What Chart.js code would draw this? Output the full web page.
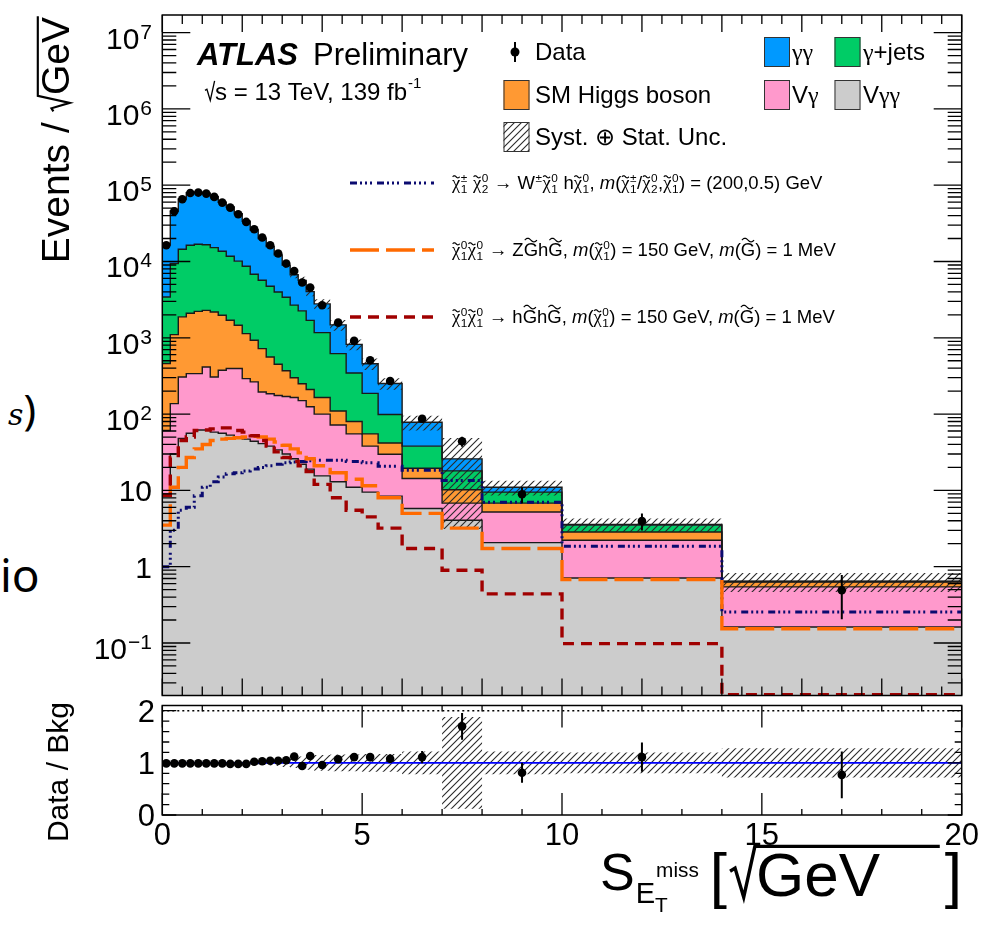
<!DOCTYPE html>
<html lang="en">
<head>
<meta charset="UTF-8">
<title>S_ET^miss distribution</title>
<script src="https://cdn.jsdelivr.net/npm/chart.js@4.4.1/dist/chart.umd.min.js"></script>
<style>
  body { margin: 0; background: #fff; width: 995px; height: 928px; overflow: hidden; position: relative; }
  canvas { position: absolute; left: 0; top: 0; }
  .stray { position: absolute; font-family: "Noto Sans", sans-serif; color: #000; line-height: 1; }
</style>
</head>
<body>
<div class="stray" style="left:8px; top:388px; font-size:42px;"><span style="font-family:'DejaVu Serif',serif; font-style:italic; font-size:30px;">s</span>)</div>
<div class="stray" style="left:0px; top:551px; font-size:46px;">io</div>
<canvas id="mainChart" width="995" height="928"></canvas>
<canvas id="ratioChart" width="995" height="928"></canvas>
<script>
// bin edges in sqrt(GeV)
const binEdges = [0, 0.2, 0.4, 0.6, 0.8, 1.0, 1.2, 1.4, 1.6, 1.8, 2.0, 2.2, 2.4, 2.6, 2.8, 3.0, 3.2, 3.4, 3.6, 3.8,
                  4.2, 4.6, 5.0, 5.4, 6, 7, 8, 10, 14, 20];

// observed events / sqrt(GeV)
const dataValues = [16300, 45500, 65300, 79000, 80000, 77600, 70200, 59100, 50800, 41600,
                    33000, 26400, 20600, 16300, 12700, 9400, 7500, 5300, 4550, 2670,
                    1580, 910, 507, 272, 87, 44, 8.9, 3.97, 0.49];

// background processes (stack order: bottom to top)
const vyyBkg    = [9, 30, 48, 56, 62, 62, 58, 56, 53, 50, 47, 44, 41, 38, 34, 30, 26, 22, 19, 15.5,
                   13, 11, 9.5, 8.4, 5.8, 4.06, 2.07, 0.71, 0.162];
const vyBkg     = [52, 107, 258, 283, 277, 353, 248, 319, 342, 345, 245, 220, 154, 147, 141, 140, 139, 128, 106, 84.5,
                   59, 44, 28.5, 21.3, 8.5, 2.74, 3.13, 1.51, 0.381];
const higgsBkg  = [399, 963, 1574, 1761, 1881, 1875, 1874, 1595, 1305, 1065, 843, 665, 527, 375, 275, 200, 135, 100, 85, 65,
                   38, 25, 17, 12, 5.2, 3.4, 1.6, 0.63, 0.087];
const yjetsBkg  = [2970, 8300, 12570, 14200, 14580, 14310, 13020, 11630, 10000, 8640, 7515, 5871, 4948, 4170, 3540, 3030, 2380, 2006, 1480, 1005,
                   510, 265, 132, 57, 18.5, 7.8, 2.7, 0.65, 0.01];
const yyBkg     = [13030, 36560, 51510, 63500, 64000, 61780, 55700, 46100, 40140, 32350, 25020, 19080, 14330, 10940, 8220, 5550, 4020, 3384, 2340, 1610,
                   857, 475, 270, 153, 40, 7.9, 1.5, 0.08, 0.005];

// relative syst+stat uncertainty on the total background
const bkgRelUnc = [0.01, 0.01, 0.01, 0.01, 0.01, 0.01, 0.01, 0.01, 0.01, 0.01, 0.02, 0.03, 0.04, 0.05, 0.06, 0.08, 0.10, 0.12, 0.13, 0.15,
                   0.16, 0.16, 0.17, 0.17, 0.22, 0.88, 0.22, 0.20, 0.28];

// data / background
const ratioValues = [0.99, 0.99, 0.99, 0.99, 0.99, 0.99, 0.99, 0.99, 0.98, 0.98, 0.98, 1.02, 1.03, 1.04, 1.04, 1.05, 1.12, 0.94, 1.13, 0.96,
                     1.07, 1.11, 1.11, 1.08, 1.11, 1.70, 0.81, 1.11, 0.77];

// signal benchmarks
const sigWh   = [1.0, 3.0, 5.5, 6.0, 8.5, 11, 13, 15, 16.5, 17, 18, 19, 20, 21, 22, 23, 23.5, 24, 24.5, 24.8,
                 24.8, 24, 23, 20.7, 18.3, 13.5, 7.0, 1.85, 0.255];
const sigZGhG = [3.5, 11, 20, 27, 35, 40, 45, 47, 48, 49, 50, 51, 50, 47, 43, 39, 35, 31, 26, 21,
                 17, 14, 11.5, 8, 5.0, 3.2, 1.73, 0.68, 0.154];
const sigHGhG = [8.6, 27, 45, 50, 61, 62, 64, 66, 66, 61, 58, 52, 45, 38, 32, 27, 24, 21, 17.6, 12,
                 8, 5.5, 4.5, 3.2, 1.73, 0.9, 0.44, 0.098, 0.021];

// axis tick labels
const yExponents = [-1, 0, 1, 2, 3, 4, 5, 6, 7];
const xTickLabels = [0, 5, 10, 15, 20];
const ratioTickLabels = [0, 1, 2];

const FONT = '"Liberation Sans", Arial, Helvetica, sans-serif';
const GREEK = '"Liberation Serif", "DejaVu Serif", serif';
const stackNames = ['Vγγ', 'Vγ', 'SM Higgs boson', 'γ+jets', 'γγ'];
const stackColors = ['#cccccc', '#ff99cc', '#ff9933', '#00cc66', '#0099ff'];

const nBins = dataValues.length;
const binWidths = dataValues.map((_, i) => binEdges[i + 1] - binEdges[i]);
const binCenters = dataValues.map((_, i) => (binEdges[i] + binEdges[i + 1]) / 2);

// running sums for the stack
let running = new Array(nBins).fill(0);
const stackTops = [vyyBkg, vyBkg, higgsBkg, yjetsBkg, yyBkg].map(layer => (running = running.map((r, i) => r + layer[i])));
const bkgTotal = stackTops[stackTops.length - 1];

// step points: one per lower edge plus the closing edge
function steps(vals) {
  const pts = vals.map((v, i) => ({ x: binEdges[i], y: v }));
  pts.push({ x: binEdges[binEdges.length - 1], y: vals[vals.length - 1] });
  return pts;
}

function hatch(ctx) {
  const n = 7;
  const c = document.createElement('canvas');
  c.width = c.height = n;
  const g = c.getContext('2d');
  g.strokeStyle = '#2a2a2a';
  g.lineWidth = 1.1;
  g.beginPath();
  g.moveTo(0, n); g.lineTo(n, 0);
  g.moveTo(-2, 2); g.lineTo(2, -2);
  g.moveTo(n - 2, n + 2); g.lineTo(n + 2, n - 2);
  g.stroke();
  return ctx.createPattern(c, 'repeat');
}

function setFont(ctx, size, style, family) { ctx.font = (style ? style + ' ' : '') + size + 'px ' + (family || FONT); }

// plain text where greek letters come from the serif face
function mixedText(ctx, text, x, y, size) {
  let cx = x;
  for (const ch of text.split(/(γ)/)) {
    if (!ch) continue;
    setFont(ctx, size, '', ch === 'γ' ? GREEK : FONT);
    ctx.fillText(ch, cx, y);
    cx += ctx.measureText(ch).width;
  }
  return cx - x;
}

function drawTilde(ctx, cx, cy, w, lw) {
  ctx.save();
  ctx.lineWidth = lw;
  ctx.beginPath();
  for (let k = 0; k <= 16; k++) {
    const t = k / 16;
    const px = cx - w / 2 + t * w, py = cy - Math.sin(t * 2 * Math.PI) * w * 0.15;
    if (k) ctx.lineTo(px, py); else ctx.moveTo(px, py);
  }
  ctx.stroke();
  ctx.restore();
}

// text with tildes, super- and subscripts; returns the width
function richText(ctx, x, y, size, parts, draw) {
  let cx = x;
  const small = size * 0.64;
  for (const p of parts) {
    const part = typeof p === 'string' ? { t: p } : p;
    setFont(ctx, size, part.italic ? 'italic' : '', part.greek ? GREEK : FONT);
    const w = ctx.measureText(part.t).width;
    if (draw) {
      ctx.fillText(part.t, cx, y);
      if (part.tilde) drawTilde(ctx, cx + w / 2, y - size * (part.cap ? 0.86 : 0.66), w * 0.85, size * 0.065);
    }
    cx += w;
    if (part.sup || part.sub) {
      setFont(ctx, small);
      let sw = 0;
      for (const [s, dy] of [[part.sup, -size * 0.4], [part.sub, size * 0.24]]) {
        if (!s) continue;
        if (draw) ctx.fillText(s, cx + 0.5, y + dy);
        sw = Math.max(sw, ctx.measureText(s).width);
      }
      cx += sw + 1;
    }
  }
  return cx - x;
}

// radical sign; the bar over the radicand runs to barEnd (or just past the text)
function drawRadical(ctx, x, y, size, radicand, bar, barEnd) {
  setFont(ctx, size);
  const w = ctx.measureText(radicand).width;
  ctx.save();
  ctx.lineWidth = size * 0.055;
  ctx.lineJoin = 'miter';
  ctx.beginPath();
  ctx.moveTo(x, y - size * 0.40);
  ctx.lineTo(x + size * 0.08, y - size * 0.45);
  ctx.lineTo(x + size * 0.22, y + size * 0.02);
  ctx.lineTo(x + size * 0.40, y - size * 0.80);
  if (bar) ctx.lineTo(barEnd || (x + size * 0.44 + w), y - size * 0.80);
  ctx.stroke();
  ctx.restore();
  ctx.fillText(radicand, x + size * 0.42, y);
  return size * 0.42 + w;
}

function drawFrame(chart, t) {
  const { ctx, chartArea: a, scales: { x, y } } = chart;
  ctx.save();
  ctx.strokeStyle = '#000';
  ctx.lineWidth = 1.5;
  ctx.strokeRect(a.left, a.top, a.right - a.left, a.bottom - a.top);
  ctx.lineWidth = 1.3;
  ctx.beginPath();
  for (const tk of t.xTicks) {
    const px = x.getPixelForValue(tk.v);
    const L = tk.major ? t.xMajor : t.xMinor;
    ctx.moveTo(px, a.bottom); ctx.lineTo(px, a.bottom - L);
    ctx.moveTo(px, a.top); ctx.lineTo(px, a.top + L);
  }
  for (const tk of t.yTicks) {
    const py = y.getPixelForValue(tk.v);
    const L = tk.major ? t.yMajor : t.yMinor;
    ctx.moveTo(a.left, py); ctx.lineTo(a.left + L, py);
    ctx.moveTo(a.right, py); ctx.lineTo(a.right - L, py);
  }
  ctx.stroke();
  ctx.restore();
}

const errorBarPlugin = {
  id: 'errorBars',
  afterDatasetsDraw(chart) {
    const { ctx, chartArea: a } = chart;
    chart.data.datasets.forEach((ds, di) => {
      if (!ds.errorBars) return;
      const meta = chart.getDatasetMeta(di);
      const ys = chart.scales.y;
      ctx.save();
      ctx.beginPath();
      ctx.rect(a.left, a.top, a.right - a.left, a.bottom - a.top);
      ctx.clip();
      ctx.strokeStyle = '#000';
      ctx.lineWidth = 2;
      meta.data.forEach((pt, i) => {
        const [lo, hi] = ds.errorBars[i];
        ctx.beginPath();
        ctx.moveTo(pt.x, ys.getPixelForValue(Math.max(lo, ys.min)));
        ctx.lineTo(pt.x, ys.getPixelForValue(hi));
        ctx.stroke();
      });
      ctx.restore();
    });
  }
};

const mainCanvas = document.getElementById('mainChart');
const mainHatch = hatch(mainCanvas.getContext('2d'));

const dataErr = dataValues.map((v, i) => Math.sqrt(v * binWidths[i]) / binWidths[i]);

const signalStyles = [
  { data: sigWh, color: '#0b0b70', dash: [7, 3, 2, 3, 2, 3, 2, 5], width: 3 },
  { data: sigZGhG, color: '#ff6a00', dash: [29, 7], width: 3.4 },
  { data: sigHGhG, color: '#a00000', dash: [11, 7], width: 3.4 }
];

const chi = (sub, sup) => ({ t: 'χ', greek: true, tilde: true, sub, sup });
const gravitino = { t: 'G', tilde: true, cap: true };
const massM = { t: 'm', italic: true };
const signalLabels = [
  [chi('1', '±'), ' ', chi('2', '0'), ' → ', { t: 'W', sup: '±' }, chi('1', '0'), ' h', chi('1', '0'), ', ', massM, '(',
   chi('1', '±'), '/', chi('2', '0'), ',', chi('1', '0'), ') = (200,0.5) GeV'],
  [chi('1', '0'), chi('1', '0'), ' → Z', gravitino, 'h', gravitino, ', ', massM, '(', chi('1', '0'), ') = 150 GeV, ',
   massM, '(', gravitino, ') = 1 MeV'],
  [chi('1', '0'), chi('1', '0'), ' → h', gravitino, 'h', gravitino, ', ', massM, '(', chi('1', '0'), ') = 150 GeV, ',
   massM, '(', gravitino, ') = 1 MeV']
];

const mainTicks = { xTicks: [], yTicks: [], xMajor: 17, xMinor: 9, yMajor: 28, yMinor: 14 };
for (let v = 0; v <= 20.001; v += 0.5) mainTicks.xTicks.push({ v, major: Math.abs(v / 2 - Math.round(v / 2)) < 1e-6 });
for (let e = -2; e <= 7; e++) for (let m = 1; m <= 9; m++) {
  const v = m * Math.pow(10, e);
  if (v >= 0.0205 && v <= 1.7e7) mainTicks.yTicks.push({ v, major: m === 1 });
}

const mainDecor = {
  id: 'mainDecor',
  afterDraw(chart) {
    const { ctx } = chart;
    const y = chart.scales.y;
    drawFrame(chart, mainTicks);
    ctx.save();
    ctx.fillStyle = '#000';
    ctx.strokeStyle = '#000';

    // log axis labels
    ctx.textAlign = 'right';
    for (const e of yExponents) {
      const py = y.getPixelForValue(Math.pow(10, e));
      if (e === 0 || e === 1) {
        setFont(ctx, 30);
        ctx.fillText(e === 0 ? '1' : '10', 152, py + 11);
      } else {
        setFont(ctx, 21);
        const ex = e < 0 ? '−' + (-e) : String(e);
        const w = ctx.measureText(ex).width;
        ctx.fillText(ex, 152, py + 6);
        setFont(ctx, 30);
        ctx.fillText('10', 151 - w, py + 16);
      }
    }
    ctx.textAlign = 'left';

    // y title
    ctx.save();
    ctx.translate(69, 15);
    ctx.rotate(-Math.PI / 2);
    setFont(ctx, 39);
    const pre = 'Events / ';
    const wPre = ctx.measureText(pre).width;
    const wRad = 39 * 0.42 + ctx.measureText('GeV').width + 2;
    ctx.fillText(pre, -(wPre + wRad), 0);
    drawRadical(ctx, -wRad, 0, 39, 'GeV', true);
    ctx.restore();

    // ATLAS label
    setFont(ctx, 31, 'italic bold');
    ctx.fillText('ATLAS', 197, 65);
    setFont(ctx, 31);
    ctx.fillText('Preliminary', 313, 65);
    setFont(ctx, 24);
    let cx = 205 + drawRadical(ctx, 205, 100, 24, 's', false);
    ctx.fillText(' = 13 TeV, 139 fb', cx, 100);
    cx += ctx.measureText(' = 13 TeV, 139 fb').width;
    setFont(ctx, 15);
    ctx.fillText('-1', cx + 1, 88);

    // process legend
    ctx.lineWidth = 2;
    ctx.beginPath();
    ctx.moveTo(515, 42); ctx.lineTo(515, 62); ctx.stroke();
    ctx.beginPath(); ctx.arc(515, 52, 4.5, 0, Math.PI * 2); ctx.fill();
    setFont(ctx, 24);
    ctx.fillText('Data', 535, 60);
    const boxes = [
      { x: 503.5, y: 80, fill: stackColors[2], text: stackNames[2], tx: 535 },
      { x: 503.5, y: 122, fill: mainHatch, text: 'Syst. ⊕ Stat. Unc.', tx: 535 },
      { x: 764, y: 37, fill: stackColors[4], text: stackNames[4], tx: 792 },
      { x: 834.5, y: 37, fill: stackColors[3], text: stackNames[3], tx: 863 },
      { x: 764, y: 80, fill: stackColors[1], text: stackNames[1], tx: 792 },
      { x: 834.5, y: 80, fill: stackColors[0], text: stackNames[0], tx: 863 }
    ];
    ctx.lineWidth = 1;
    for (const b of boxes) {
      ctx.fillStyle = b.fill;
      ctx.fillRect(b.x, b.y, 26, 30);
      ctx.strokeStyle = '#333';
      ctx.strokeRect(b.x + 0.5, b.y + 0.5, 25, 29);
      ctx.fillStyle = '#000';
      mixedText(ctx, b.text, b.tx, b.y + 23, 24);
    }

    // signal legend
    const lineY = [183, 250, 317];
    signalStyles.forEach((s, k) => {
      ctx.save();
      ctx.strokeStyle = s.color;
      ctx.lineWidth = s.width;
      ctx.setLineDash(s.dash);
      ctx.beginPath();
      ctx.moveTo(350, lineY[k]); ctx.lineTo(434, lineY[k]);
      ctx.stroke();
      ctx.restore();
      ctx.fillStyle = '#000';
      ctx.strokeStyle = '#000';
      richText(ctx, 452, lineY[k] + 6, 18.5, signalLabels[k], true);
    });
    ctx.restore();
  }
};

const mainDatasets = stackTops.map((tops, k) => ({
  label: stackNames[k],
  data: steps(tops),
  stepped: true,
  borderColor: '#1a1a1a',
  borderWidth: 1.4,
  backgroundColor: stackColors[k],
  fill: k === 0 ? 'start' : '-1',
  pointRadius: 0,
  order: 20 - k
}));
mainDatasets.push({
  label: 'unc-low', data: steps(bkgTotal.map((t, i) => t * (1 - bkgRelUnc[i]))),
  stepped: true, borderWidth: 0, pointRadius: 0, fill: false, order: 10
});
mainDatasets.push({
  label: 'Syst. ⊕ Stat. Unc.', data: steps(bkgTotal.map((t, i) => t * (1 + bkgRelUnc[i]))),
  stepped: true, borderWidth: 0, pointRadius: 0, fill: '-1', backgroundColor: mainHatch, order: 10
});
signalStyles.forEach((s, k) => mainDatasets.push({
  label: 'signal ' + k, data: steps(s.data), stepped: true, fill: false,
  borderColor: s.color, borderWidth: s.width, borderDash: s.dash, pointRadius: 0, order: 5 - k
}));
mainDatasets.push({
  label: 'Data', data: binCenters.map((c, i) => ({ x: c, y: dataValues[i] })),
  showLine: false, fill: false, pointRadius: 4.3, pointBackgroundColor: '#000', pointBorderWidth: 0, order: 0,
  errorBars: dataValues.map((v, i) => [v - dataErr[i], v + dataErr[i]])
});

new Chart(mainCanvas, {
  type: 'line',
  data: { datasets: mainDatasets },
  options: {
    responsive: false,
    animation: false,
    devicePixelRatio: 1,
    layout: { padding: { left: 162.3, right: 33.3, top: 15, bottom: 232.5 } },
    scales: {
      x: { type: 'linear', min: 0, max: 20, display: false, bounds: 'data' },
      y: { type: 'logarithmic', min: 0.0205, max: 1.7e7, display: false, bounds: 'data' }
    },
    plugins: {
      legend: { display: false },
      tooltip: { enabled: false },
      filler: { drawTime: 'beforeDatasetsDraw', propagate: false }
    }
  },
  plugins: [errorBarPlugin, mainDecor]
});

// ratio panel
const ratioCanvas = document.getElementById('ratioChart');
const ratioHatch = hatch(ratioCanvas.getContext('2d'));
const ratioTicks = { xTicks: [], yTicks: [], xMajor: 22, xMinor: 6, yMajor: 14, yMinor: 7 };
for (let v = 0; v <= 20; v += 1) ratioTicks.xTicks.push({ v, major: v % 5 === 0 });
for (let k = 0; k <= 10; k++) ratioTicks.yTicks.push({ v: k * 0.2, major: k % 5 === 0 });

const ratioDecor = {
  id: 'ratioDecor',
  afterDraw(chart) {
    const { ctx } = chart;
    const { x, y } = chart.scales;
    drawFrame(chart, ratioTicks);
    ctx.save();
    ctx.fillStyle = '#000';
    ctx.strokeStyle = '#000';
    setFont(ctx, 31);
    ctx.textAlign = 'right';
    for (const v of ratioTickLabels) ctx.fillText(String(v), 155, y.getPixelForValue(v) + 11);
    ctx.textAlign = 'center';
    for (const v of xTickLabels) ctx.fillText(String(v), x.getPixelForValue(v), 845);

    // x title: symbol with sub/superscripts, then the unit in brackets
    ctx.textAlign = 'left';
    const S = 52;
    setFont(ctx, S);
    let cx = 600;
    ctx.fillText('S', cx, 890);
    cx += ctx.measureText('S').width + 1;
    setFont(ctx, S * 0.56);
    ctx.fillText('E', cx, 903);
    cx += ctx.measureText('E').width;
    setFont(ctx, S * 0.4);
    ctx.fillText('miss', cx + 1, 877);
    ctx.fillText('T', cx, 912);
    cx += ctx.measureText('miss').width + 12;
    const U = 62;
    setFont(ctx, U);
    const rb = ctx.measureText(']').width;
    ctx.fillText('[', cx, 896);
    cx += ctx.measureText('[').width + 3;
    drawRadical(ctx, cx, 896, U, 'GeV', true, 962 - rb - 5);
    setFont(ctx, U);
    ctx.fillText(']', 962 - rb, 896);

    // y title
    ctx.save();
    ctx.translate(68, 702);
    ctx.rotate(-Math.PI / 2);
    setFont(ctx, 30);
    ctx.textAlign = 'right';
    ctx.fillText('Data / Bkg', 0, 0);
    ctx.restore();
    ctx.restore();
  }
};

const ratioErr = ratioValues.map((r, i) => r * dataErr[i] / dataValues[i]);

new Chart(ratioCanvas, {
  type: 'line',
  data: {
    datasets: [
      { label: 'band-low', data: steps(bkgRelUnc.map(u => 1 - u)), stepped: true, borderWidth: 0, pointRadius: 0, fill: false, order: 10 },
      { label: 'band-high', data: steps(bkgRelUnc.map(u => 1 + u)), stepped: true, borderWidth: 0, pointRadius: 0, fill: '-1',
        backgroundColor: ratioHatch, order: 10 },
      { label: 'unity', data: [{ x: 0, y: 1 }, { x: 20, y: 1 }], borderColor: '#0000ff', borderWidth: 1.6, pointRadius: 0, fill: false, order: 5 },
      { label: 'two', data: [{ x: 0, y: 2 }, { x: 20, y: 2 }], borderColor: '#000', borderWidth: 1.4, borderDash: [2, 3], pointRadius: 0, fill: false, order: 5 },
      { label: 'Data / Bkg', data: binCenters.map((c, i) => ({ x: c, y: ratioValues[i] })), showLine: false, fill: false,
        pointRadius: 4.3, pointBackgroundColor: '#000', pointBorderWidth: 0, order: 0,
        errorBars: ratioValues.map((r, i) => [r - ratioErr[i], r + ratioErr[i]]) }
    ]
  },
  options: {
    responsive: false,
    animation: false,
    devicePixelRatio: 1,
    layout: { padding: { left: 162.3, right: 33.3, top: 705.5, bottom: 113 } },
    scales: {
      x: { type: 'linear', min: 0, max: 20, display: false, bounds: 'data' },
      y: { type: 'linear', min: 0, max: 2.1, display: false, bounds: 'data' }
    },
    plugins: {
      legend: { display: false },
      tooltip: { enabled: false },
      filler: { drawTime: 'beforeDatasetsDraw', propagate: false }
    }
  },
  plugins: [errorBarPlugin, ratioDecor]
});
</script>
</body>
</html>
